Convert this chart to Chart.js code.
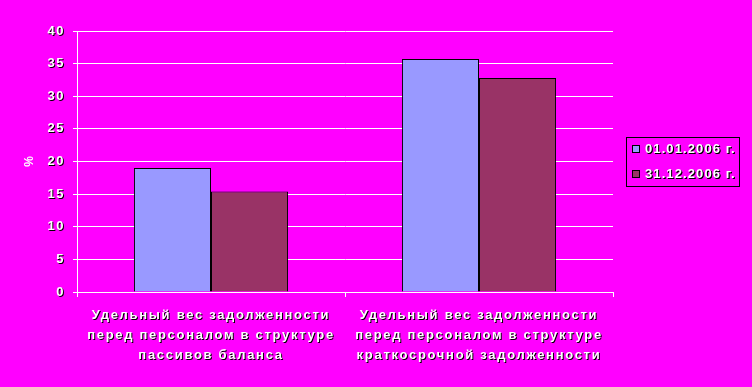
<!DOCTYPE html>
<html>
<head>
<meta charset="utf-8">
<script src="https://cdn.jsdelivr.net/npm/chart.js@4/dist/chart.umd.min.js"></script>
<style>
  html, body { margin: 0; padding: 0; background: #ff00ff; }
  #wrap { width: 752px; height: 387px; }
</style>
</head>
<body>
<div id="wrap"><canvas id="chart" width="752" height="387"></canvas></div>
<script>
'use strict';

// データ
const categories = [
  ['Удельный вес задолженности', 'перед персоналом в структуре', 'пассивов баланса'],
  ['Удельный вес задолженности', 'перед персоналом в структуре', 'краткосрочной задолженности'],
];
const seriesNames = ['01.01.2006 г.', '31.12.2006 г.'];
const valuesStart = [19.0, 15.4];
const valuesEnd = [35.7, 32.8];
const seriesColors = ['#9999ff', '#993366'];

const BG = '#ff00ff';
const FONT = 'Arial, "Liberation Sans", sans-serif';

// 白文字＋黒い影（Excel風）、字間を広げる
const shadowText = {
  id: 'shadowText',
  beforeDraw(chart) {
    const ctx = chart.ctx;
    if (ctx._patched) return;
    const orig = ctx.fillText;
    ctx.fillText = function (t, x, y, w) {
      if (t === '%') {
        orig.call(this, t, x, y);
        return;
      }
      const ls = this.letterSpacing;
      if (this.textAlign === 'right') this.letterSpacing = '1.5px';
      else if (this.textAlign === 'center') this.letterSpacing = '1.7px';
      const fs = this.fillStyle;
      if (fs === '#ffffff' || fs === 'white') {
        this.fillStyle = '#000000';
        orig.call(this, t, x + 1, y + 1);
        this.fillStyle = fs;
      }
      orig.call(this, t, x, y);
      this.letterSpacing = ls;
    };
    ctx._patched = true;
  },
};

// 背景
const bgPlugin = {
  id: 'bg',
  beforeDraw(chart) {
    const ctx = chart.ctx;
    ctx.save();
    ctx.fillStyle = BG;
    ctx.fillRect(0, 0, chart.width, chart.height);
    ctx.restore();
  },
};

// 凡例（枠付き）
const boxLegend = {
  id: 'boxLegend',
  afterDraw(chart) {
    const ctx = chart.ctx;
    const x = 626, y = 137, w = 113, h = 49;
    ctx.save();
    ctx.strokeStyle = '#000';
    ctx.lineWidth = 1;
    ctx.strokeRect(x + 0.5, y + 0.5, w, h);
    ctx.font = 'bold 13px ' + FONT;
    ctx.textBaseline = 'middle';
    ctx.textAlign = 'left';
    chart.data.datasets.forEach((ds, i) => {
      const cy = y + 12 + i * 25;
      ctx.fillStyle = ds.backgroundColor;
      ctx.fillRect(x + 6.5, cy - 3.5, 7, 7);
      ctx.strokeStyle = '#000';
      ctx.strokeRect(x + 6.5, cy - 3.5, 7, 7);
      ctx.letterSpacing = '1.1px';
      ctx.fillStyle = '#000000';
      ctx.fillText(ds.label, x + 20, cy + 1);
      ctx.fillStyle = '#ffffff';
      ctx.fillText(ds.label, x + 19, cy);
      ctx.letterSpacing = '0px';
    });
    ctx.restore();
  },
};

const ctx = document.getElementById('chart').getContext('2d');
new Chart(ctx, {
  type: 'bar',
  data: {
    labels: categories,
    datasets: [
      {
        label: seriesNames[0],
        data: [valuesStart[0], valuesEnd[0]],
        backgroundColor: seriesColors[0],
        borderColor: '#000',
        borderWidth: 1,
      },
      {
        label: seriesNames[1],
        data: [valuesStart[1], valuesEnd[1]],
        backgroundColor: seriesColors[1],
        borderColor: '#000',
        borderWidth: 1,
      },
    ],
  },
  options: {
    responsive: false,
    animation: false,
    devicePixelRatio: 1,
    layout: { padding: { top: 31, right: 139, left: 0, bottom: 0 } },
    datasets: {
      bar: { barPercentage: 1, categoryPercentage: 0.575 },
    },
    plugins: {
      legend: { display: false },
      tooltip: { enabled: false },
    },
    scales: {
      x: {
        grid: {
          offset: true,
          drawOnChartArea: false,
          color: '#ffffff',
          tickLength: 5,
        },
        border: { color: '#ffffff' },
        ticks: {
          color: '#ffffff',
          maxRotation: 0,
          autoSkip: false,
          padding: 8,
          font: { family: FONT, size: 13, weight: 'bold', lineHeight: '20px' },
        },
        afterFit(scale) { scale.height = 95; },
      },
      y: {
        min: 0,
        max: 40,
        ticks: {
          stepSize: 5,
          color: '#ffffff',
          padding: 8,
          font: { family: FONT, size: 13, weight: 'bold' },
        },
        grid: { color: '#ffffff', tickLength: 4 },
        border: { color: '#ffffff' },
        title: {
          display: true,
          text: '%',
          color: '#ffffff',
          padding: { top: 22, bottom: 0 },
          font: { family: FONT, size: 12, weight: 'bold' },
        },
        afterFit(scale) { scale.width = 77; },
      },
    },
  },
  plugins: [bgPlugin, shadowText, boxLegend],
});
</script>
</body>
</html>
